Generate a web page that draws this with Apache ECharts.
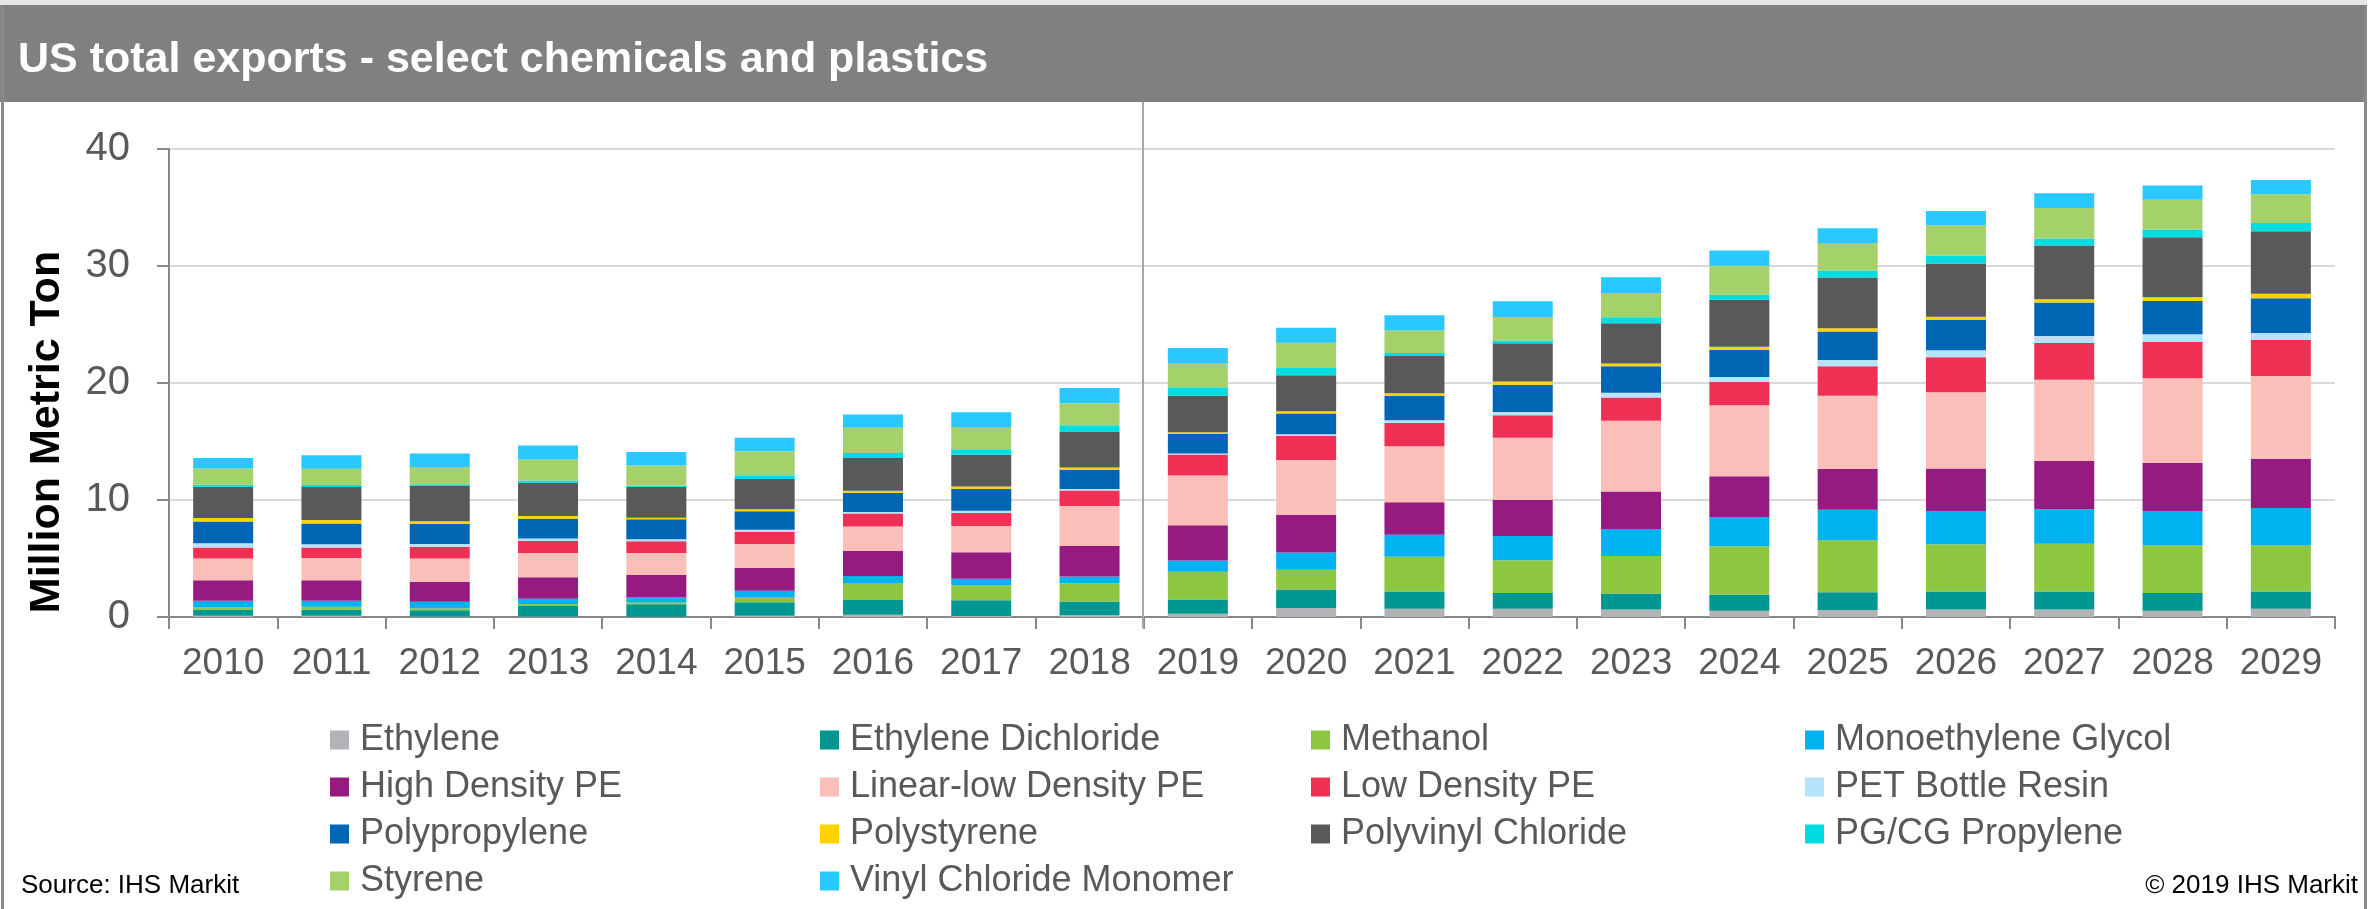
<!DOCTYPE html>
<html>
<head>
<meta charset="utf-8">
<script src="https://cdn.jsdelivr.net/npm/echarts@6/dist/echarts.min.js"></script>
<style>
html,body{margin:0;padding:0;background:#fff;}
#chart{width:2377px;height:909px;}
</style>
</head>
<body>
<div id="chart"></div>
<script>
const years = ['2010','2011','2012','2013','2014','2015','2016','2017','2018','2019','2020','2021','2022','2023','2024','2025','2026','2027','2028','2029'];
const yTicks = [0, 10, 20, 30, 40];

const ethylene = [0.1,0.1,0.05,0.05,0.03,0.1,0.2,0.08,0.17,0.28,0.77,0.71,0.71,0.65,0.54,0.6,0.65,0.65,0.54,0.71];
const ethyleneDichloride = [0.55,0.55,0.52,0.9,1.05,1.16,1.25,1.36,1.16,1.22,1.59,1.48,1.34,1.36,1.36,1.51,1.53,1.53,1.51,1.48];
const methanol = [0.17,0.23,0.17,0.17,0.17,0.45,1.45,1.28,1.56,2.36,1.68,2.95,2.81,3.21,4.15,4.46,4.03,4.09,4.09,3.95];
const monoethyleneGlycol = [0.57,0.51,0.57,0.43,0.45,0.54,0.6,0.54,0.57,0.97,1.48,1.88,2.07,2.3,2.5,2.59,2.84,2.95,2.93,3.18];
const highDensityPE = [1.76,1.76,1.68,1.85,1.88,1.93,2.16,2.27,2.61,3.01,3.21,2.78,3.07,3.21,3.49,3.52,3.64,4.12,4.12,4.18];
const linearLowDensityPE = [1.85,1.9,2.02,2.07,1.88,2.05,2.07,2.24,3.41,4.26,4.69,4.8,5.31,6.05,6.05,6.22,6.53,6.93,7.22,7.1];
const lowDensityPE = [0.94,0.88,0.99,1.02,1.02,1.05,1.11,1.11,1.34,1.79,2.07,1.99,1.93,1.99,1.99,2.53,2.98,3.15,3.1,3.07];
const petBottleResin = [0.37,0.28,0.23,0.23,0.17,0.17,0.14,0.2,0.11,0.09,0.14,0.23,0.28,0.4,0.43,0.54,0.6,0.6,0.65,0.6];
const polypropylene = [1.85,1.79,1.73,1.68,1.7,1.59,1.65,1.88,1.65,1.68,1.76,2.07,2.33,2.27,2.3,2.44,2.59,2.87,2.84,2.98];
const polystyrene = [0.31,0.28,0.23,0.23,0.14,0.17,0.17,0.2,0.2,0.14,0.2,0.23,0.28,0.23,0.28,0.28,0.28,0.26,0.34,0.37];
const polyvinylChloride = [2.67,2.84,3.04,2.84,2.64,2.59,2.78,2.7,3.04,3.1,3.07,3.18,3.27,3.44,4.03,4.32,4.55,4.6,5.11,5.34];
const pgcgPropylene = [0.17,0.17,0.11,0.2,0.11,0.26,0.43,0.48,0.57,0.74,0.63,0.26,0.23,0.51,0.43,0.6,0.68,0.6,0.68,0.71];
const styrene = [1.39,1.39,1.48,1.79,1.7,2.1,2.16,1.9,1.88,2.07,2.16,1.93,2.02,2.07,2.47,2.36,2.59,2.61,2.53,2.47];
const vinylChlorideMonomer = [0.88,1.14,1.16,1.19,1.16,1.16,1.14,1.25,1.31,1.28,1.28,1.31,1.34,1.35,1.31,1.25,1.22,1.25,1.22,1.22];

const seriesNames = ['Ethylene','Ethylene Dichloride','Methanol','Monoethylene Glycol','High Density PE','Linear-low Density PE','Low Density PE','PET Bottle Resin','Polypropylene','Polystyrene','Polyvinyl Chloride','PG/CG Propylene','Styrene','Vinyl Chloride Monomer'];
const seriesData = [ethylene, ethyleneDichloride, methanol, monoethyleneGlycol, highDensityPE, linearLowDensityPE, lowDensityPE, petBottleResin, polypropylene, polystyrene, polyvinylChloride, pgcgPropylene, styrene, vinylChlorideMonomer];
const seriesColors = ['#b1b3b6','#009691','#8dc63f','#00b2ef','#951b81','#f9bfb8','#ef3054','#b5e3fa','#0066b3','#ffd200','#58595b','#00dcdf','#a5d16a','#29c8ff'];

const titleText = 'US total exports - select chemicals and plastics';
const yAxisTitle = 'Million Metric Ton';
const sourceText = 'Source: IHS Markit';
const copyrightText = '\u00a9 2019 IHS Markit';

const FONT = 'Liberation Sans, Arial, sans-serif';
const chart = echarts.init(document.getElementById('chart'), null, {renderer: 'canvas'});

const series = seriesNames.map((name, i) => ({
  name: name,
  type: 'bar',
  stack: 'total',
  barWidth: 60,
  data: seriesData[i],
  itemStyle: {color: seriesColors[i]},
  emphasis: {disabled: true}
}));

const legendColumns = [
  [0, 4, 8, 12],
  [1, 5, 9, 13],
  [2, 6, 10],
  [3, 7, 11]
];
const legendLeft = [330, 820, 1311, 1805];
const legends = legendColumns.map((col, c) => ({
  orient: 'vertical',
  left: legendLeft[c],
  top: 722,
  padding: 0,
  itemWidth: 19,
  itemHeight: 19,
  itemGap: 11,
  icon: 'rect',
  selectedMode: false,
  data: col.map(i => seriesNames[i]),
  textStyle: {fontFamily: FONT, fontSize: 36, color: '#595959', lineHeight: 36, padding: [0, 0, 0, 6]}
}));

chart.setOption({
  animation: false,
  color: seriesColors,
  grid: {left: 169, right: 42, top: 149, bottom: 292, containLabel: false},
  legend: legends,
  xAxis: {
    type: 'category',
    data: years,
    axisLine: {lineStyle: {color: '#898989', width: 2}},
    axisTick: {show: true, length: 12, lineStyle: {color: '#898989', width: 2}},
    axisLabel: {fontFamily: FONT, fontSize: 37, color: '#595959', margin: 28}
  },
  yAxis: {
    type: 'value',
    min: yTicks[0],
    max: yTicks[yTicks.length - 1],
    interval: 10,
    axisLine: {show: true, lineStyle: {color: '#898989', width: 2}},
    axisTick: {show: true, length: 12, lineStyle: {color: '#898989', width: 2}},
    axisLabel: {fontFamily: FONT, fontSize: 40, color: '#595959', margin: 39},
    splitLine: {lineStyle: {color: '#d9d9d9', width: 2}}
  },
  series: series
});

const x18 = chart.convertToPixel({xAxisIndex: 0}, '2018');
const x19 = chart.convertToPixel({xAxisIndex: 0}, '2019');
const xSep = Math.round((x18 + x19) / 2) - 1;

chart.setOption({
  graphic: [
    {type: 'rect', z: -10, silent: true, shape: {x: 0, y: 0, width: 2367, height: 5}, style: {fill: '#e6e6e6'}},
    {type: 'rect', z: -10, silent: true, shape: {x: 0, y: 5, width: 2367, height: 97}, style: {fill: '#7f807f'}},
    {type: 'rect', z: -10, silent: true, shape: {x: 1, y: 5, width: 3, height: 904}, style: {fill: '#8a8a8a'}},
    {type: 'rect', z: -10, silent: true, shape: {x: 2364, y: 5, width: 3, height: 904}, style: {fill: '#8a8a8a'}},
    {type: 'text', silent: true, x: 18, y: 60, style: {text: titleText, fill: '#ffffff', font: 'bold 43px ' + FONT, textVerticalAlign: 'middle', textAlign: 'left'}},
    {type: 'text', silent: true, x: 47, y: 432, rotation: Math.PI / 2, style: {text: yAxisTitle, fill: '#000000', font: 'bold 43px ' + FONT, textVerticalAlign: 'middle', textAlign: 'center'}},
    {type: 'line', silent: true, z: 50, shape: {x1: xSep, y1: 102, x2: xSep, y2: 628}, style: {stroke: '#a6a6a6', lineWidth: 2}},
    {type: 'text', silent: true, x: 21, y: 886, style: {text: sourceText, fill: '#000000', font: '26px ' + FONT, textVerticalAlign: 'middle', textAlign: 'left'}},
    {type: 'text', silent: true, x: 2358, y: 886, style: {text: copyrightText, fill: '#000000', font: '26px ' + FONT, textVerticalAlign: 'middle', textAlign: 'right'}}
  ]
});
</script>
</body>
</html>
